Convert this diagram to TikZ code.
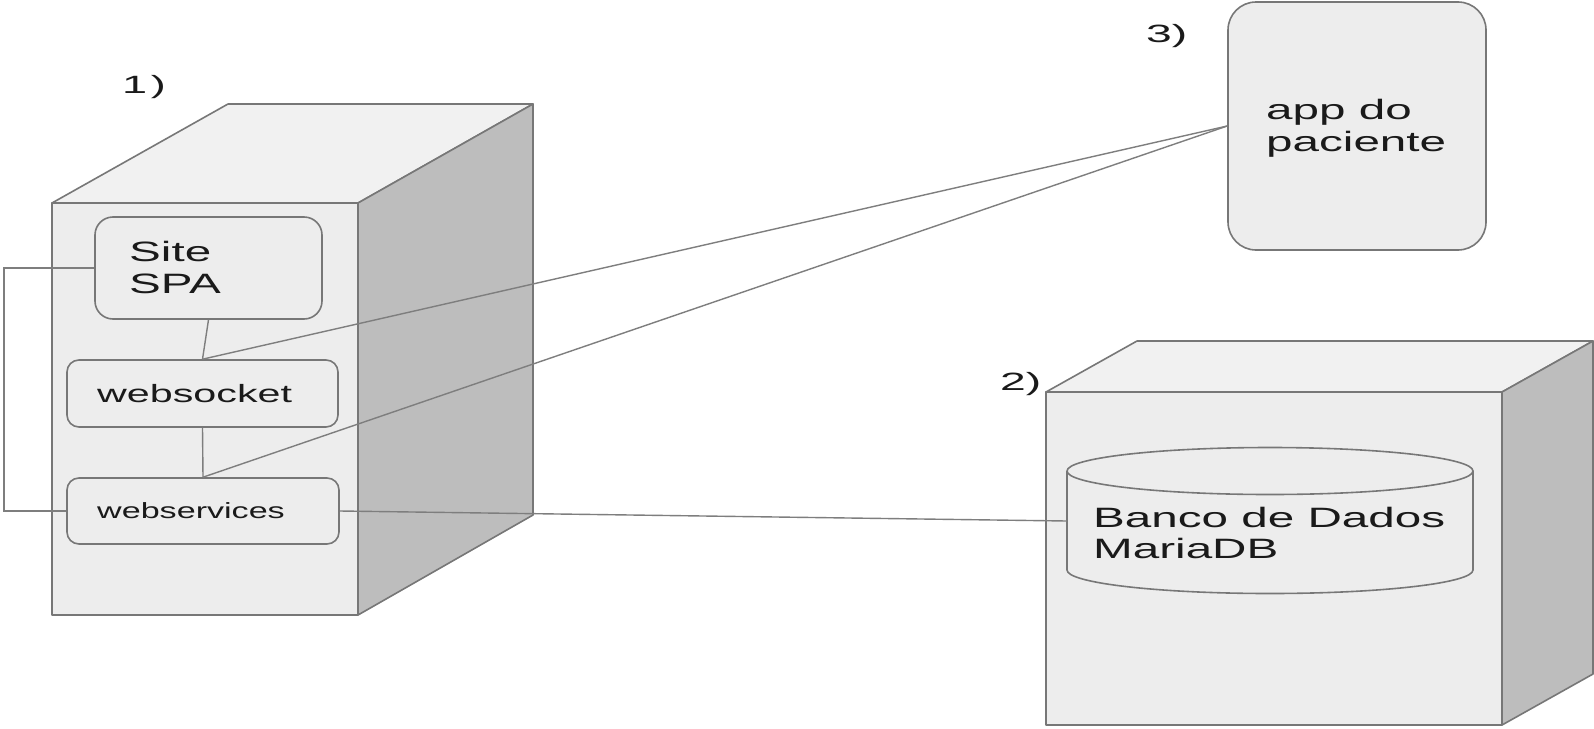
\documentclass[tikz,border=0pt]{standalone}
\usepackage{fontspec}
\setmainfont{Liberation Sans}
\definecolor{edgec}{HTML}{777777}
\definecolor{linec}{HTML}{7E7E7E}
\definecolor{frontc}{HTML}{EDEDED}
\definecolor{topc}{HTML}{F1F1F1}
\definecolor{sidec}{HTML}{BDBDBD}
\definecolor{boxc}{HTML}{EDEDED}
\definecolor{txtc}{HTML}{1A1A1A}
\newcommand{\wtxt}[1]{\scalebox{1.7}[1]{#1}}
\begin{document}
\begin{tikzpicture}[x=1pt,y=-1pt,
  face/.style={draw=edgec, line width=1.6pt, line join=round},
  box/.style={draw=edgec, fill=boxc, line width=1.6pt, inner sep=0pt},
  conn/.style={draw=linec, line width=1.4pt},
  txt/.style={anchor=base west, inner sep=0pt, text=txtc},
  big/.style={font=\fontsize{28}{32}\selectfont},
  lab/.style={font=\fontsize{25}{28}\selectfont}]
\useasboundingbox (0,0) rectangle (1594,728);
\fill[white] (0,0) rectangle (1594,728);
% cube 1
\filldraw[face, fill=frontc] (52,203) rectangle (358,615);
\filldraw[face, fill=topc] (52,203) -- (228,104) -- (533,104) -- (358,203) -- cycle;
\filldraw[face, fill=sidec] (358,203) -- (533,104) -- (533,515) -- (358,615) -- cycle;
% cube 2
\filldraw[face, fill=frontc] (1046,392) rectangle (1502,725);
\filldraw[face, fill=topc] (1046,392) -- (1137,341) -- (1593,341) -- (1502,392) -- cycle;
\filldraw[face, fill=sidec] (1502,392) -- (1593,341) -- (1593,674) -- (1502,725) -- cycle;
% labels
\node[txt, lab] (l1) at (122,93) {\scalebox{1.8}[1]{1\kern2pt)}};
\node[txt, lab] (l2) at (1000,390) {\scalebox{1.85}[1]{2)}};
\node[txt, lab] (l3) at (1146,42) {\scalebox{1.85}[1]{3)}};
% boxes
\node[box, rounded corners=18pt, minimum width=227pt, minimum height=102pt] (site) at (208.5,268) {};
\node[box, rounded corners=12pt, minimum width=271pt, minimum height=67pt] (wsock) at (202.5,393.5) {};
\node[box, rounded corners=12pt, minimum width=272pt, minimum height=66pt] (wserv) at (203,511) {};
\node[box, rounded corners=28pt, minimum width=258pt, minimum height=248pt] (app) at (1357,126) {};
% cylinder
\fill[boxc] (1067,471) -- (1067,570) arc[start angle=180, end angle=0, x radius=203, y radius=23.5] -- (1473,471) -- cycle;
\draw[face] (1067,471) -- (1067,570) arc[start angle=180, end angle=0, x radius=203, y radius=23.5] -- (1473,471);
\draw[face] (1270,471) ellipse [x radius=203, y radius=23.5];
\node[inner sep=0pt, minimum width=406pt, minimum height=100pt] (db) at (1270,521) {};
% texts
\node[txt, big] (t1) at (129,261) {\wtxt{Site}};
\node[txt, big] (t2) at (129,293) {\wtxt{SPA}};
\node[txt, font=\fontsize{25}{30}\selectfont] (t3) at (97,402) {\scalebox{1.65}[1]{websocket}};
\node[txt, font=\fontsize{22}{26}\selectfont] (t4) at (97,518) {\scalebox{1.55}[1]{webservices}};
\node[txt, big] (t5) at (1266,119) {\wtxt{app do}};
\node[txt, big] (t6) at (1266,151) {\wtxt{paciente}};
\node[txt, big] (t7) at (1093,527) {\wtxt{Banco de Dados}};
\node[txt, big] (t8) at (1093,558) {\wtxt{MariaDB}};
% connectors
\coordinate (lx) at (4,0);
\draw[conn] (site.west) -- (site.west -| lx) -- (wserv.west -| lx) -- (wserv.west);
\draw[conn] (site.south) -- (wsock.north);
\draw[conn] (wsock.south) -- (wserv.north);
\draw[conn] (wsock.north) -- (app.west);
\draw[conn] (wserv.north) -- (app.west);
\draw[conn] (wserv.east) -- (db.west);
\end{tikzpicture}
\end{document}
